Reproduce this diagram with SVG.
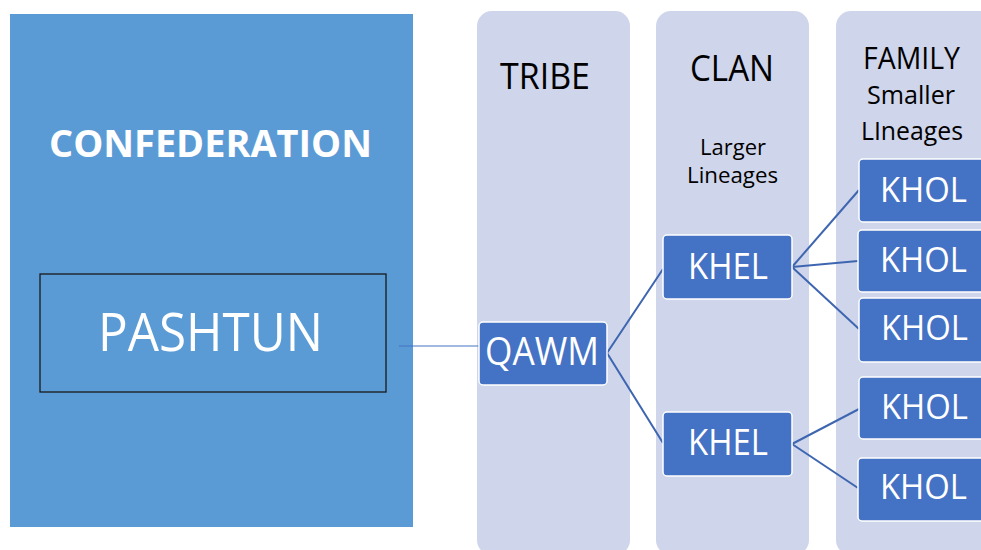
<svg xmlns="http://www.w3.org/2000/svg" width="981" height="550" viewBox="0 0 981 550">
  <style>
    .col { fill: #CFD5EA; }
    .box { fill: #4472C4; stroke: #FFFFFF; stroke-width: 1.5; }
    .lbl { font-family: "Open Sans", "Noto Sans", sans-serif; fill: #FFFFFF; }
    .hdr { font-family: "Open Sans", "Noto Sans", sans-serif; fill: #000000; }
    .link { stroke: #3E66B0; stroke-width: 2; fill: none; }
  </style>
  <rect width="981" height="550" fill="#FFFFFF"/>

  <!-- confederation panel -->
  <g id="confederation">
    <rect x="10" y="14" width="403" height="513" fill="#5B9BD5"/>
    <text class="lbl" x="49" y="157" font-size="38" font-weight="bold" textLength="323" lengthAdjust="spacingAndGlyphs">CONFEDERATION</text>
  </g>
  <g id="pashtun">
    <rect x="40" y="274" width="346" height="118" fill="none" stroke="#1A1A1A" stroke-width="1.3"/>
    <text class="lbl" x="98" y="351" font-size="53" textLength="225" lengthAdjust="spacingAndGlyphs">PASHTUN</text>
  </g>

  <!-- level columns -->
  <g id="col-tribe">
    <rect class="col" x="477" y="11" width="153" height="544" rx="15"/>
    <text class="hdr" x="500" y="89" font-size="36" textLength="90" lengthAdjust="spacingAndGlyphs">TRIBE</text>
  </g>
  <g id="col-clan">
    <rect class="col" x="656" y="11" width="153" height="544" rx="15"/>
    <text class="hdr" x="690" y="81" font-size="36" textLength="84" lengthAdjust="spacingAndGlyphs">CLAN</text>
    <text class="hdr" x="700" y="155" font-size="22" textLength="66" lengthAdjust="spacingAndGlyphs">Larger</text>
    <text class="hdr" x="687" y="183" font-size="22" textLength="91" lengthAdjust="spacingAndGlyphs">Lineages</text>
  </g>
  <g id="col-family">
    <rect class="col" x="836" y="11" width="170" height="544" rx="15"/>
    <text class="hdr" x="863" y="69" font-size="31" textLength="97" lengthAdjust="spacingAndGlyphs">FAMILY</text>
    <text class="hdr" x="867" y="104" font-size="26" textLength="88" lengthAdjust="spacingAndGlyphs">Smaller</text>
    <text class="hdr" x="861" y="140" font-size="26" textLength="102" lengthAdjust="spacingAndGlyphs">LIneages</text>
  </g>

  <!-- connectors -->
  <g id="connectors">
    <line x1="399" y1="346" x2="479" y2="346" stroke="#4472C4" stroke-width="1"/>
    <polyline class="link" points="663,269 607,353 663,443"/>
    <line class="link" x1="792" y1="267" x2="859" y2="190"/>
    <line class="link" x1="792" y1="267" x2="858" y2="261"/>
    <line class="link" x1="792" y1="267" x2="859" y2="329"/>
    <line class="link" x1="792" y1="444" x2="859" y2="409"/>
    <line class="link" x1="792" y1="444" x2="858" y2="488"/>
  </g>

  <!-- tribe -->
  <g id="qawm">
    <rect class="box" x="479" y="322" width="128" height="63" rx="4"/>
    <text class="lbl" x="485" y="365" font-size="38" textLength="114" lengthAdjust="spacingAndGlyphs">QAWM</text>
  </g>

  <!-- clans -->
  <g id="khel-1">
    <rect class="box" x="663" y="235" width="129" height="64" rx="4"/>
    <text class="lbl" x="688" y="279" font-size="36" textLength="80" lengthAdjust="spacingAndGlyphs">KHEL</text>
  </g>
  <g id="khel-2">
    <rect class="box" x="663" y="412" width="129" height="64" rx="4"/>
    <text class="lbl" x="688" y="455" font-size="36" textLength="80" lengthAdjust="spacingAndGlyphs">KHEL</text>
  </g>

  <!-- families -->
  <g id="khol-1">
    <rect class="box" x="859" y="159" width="140" height="63" rx="4"/>
    <text class="lbl" x="880" y="202" font-size="35" textLength="87" lengthAdjust="spacingAndGlyphs">KHOL</text>
  </g>
  <g id="khol-2">
    <rect class="box" x="858" y="230" width="140" height="62" rx="4"/>
    <text class="lbl" x="880" y="272" font-size="35" textLength="87" lengthAdjust="spacingAndGlyphs">KHOL</text>
  </g>
  <g id="khol-3">
    <rect class="box" x="859" y="298" width="140" height="64" rx="4"/>
    <text class="lbl" x="881" y="340" font-size="35" textLength="87" lengthAdjust="spacingAndGlyphs">KHOL</text>
  </g>
  <g id="khol-4">
    <rect class="box" x="859" y="377" width="140" height="62" rx="4"/>
    <text class="lbl" x="881" y="419" font-size="35" textLength="87" lengthAdjust="spacingAndGlyphs">KHOL</text>
  </g>
  <g id="khol-5">
    <rect class="box" x="858" y="458" width="140" height="63" rx="4"/>
    <text class="lbl" x="880" y="499" font-size="35" textLength="87" lengthAdjust="spacingAndGlyphs">KHOL</text>
  </g>
</svg>
